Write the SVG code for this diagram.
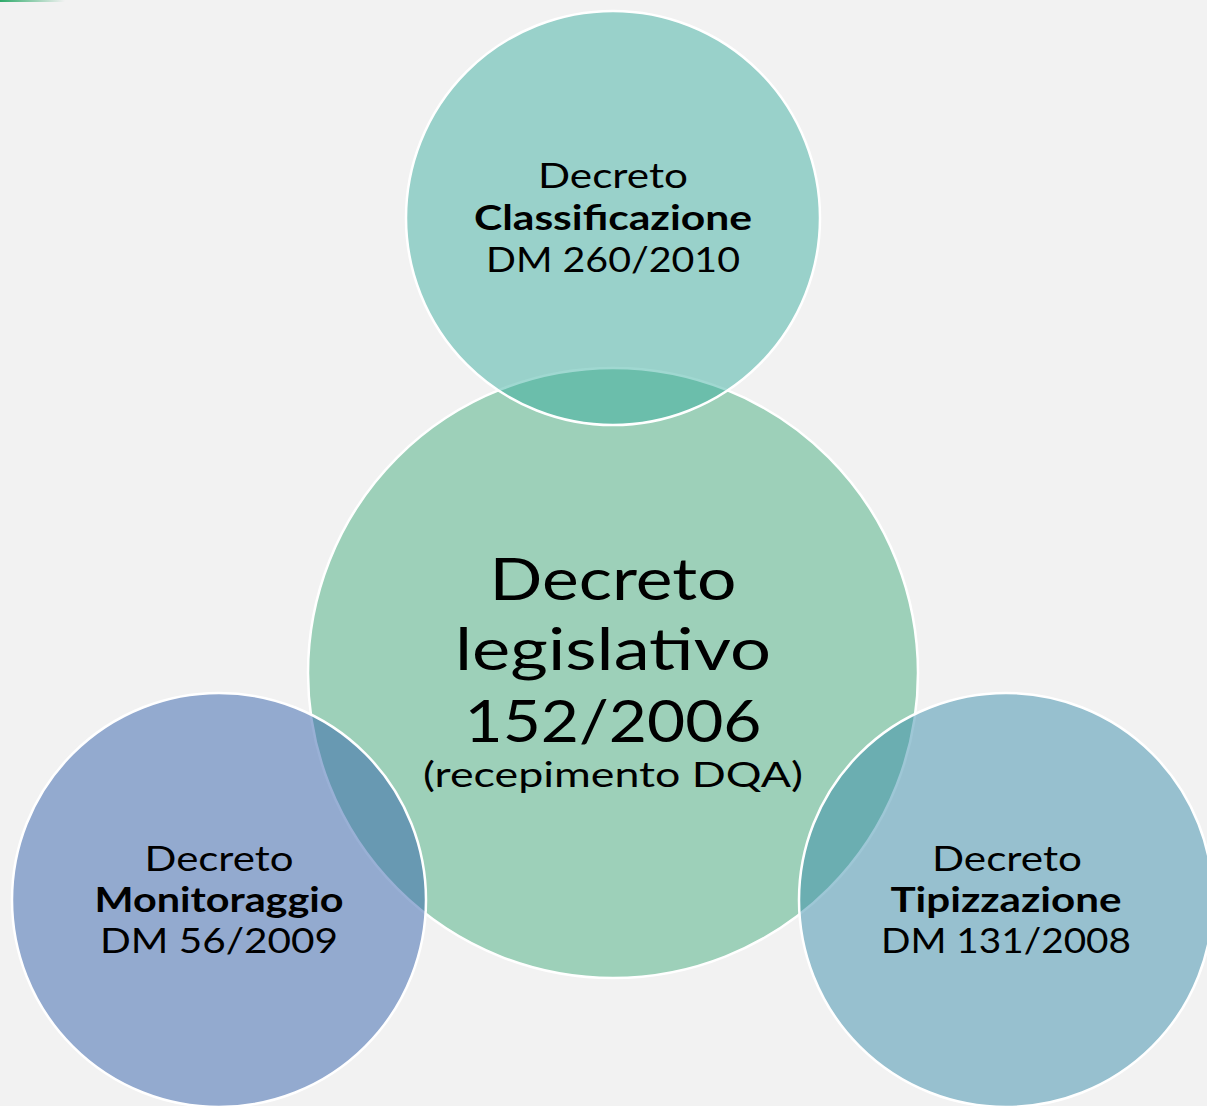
<svg xmlns="http://www.w3.org/2000/svg" width="1207" height="1106" viewBox="0 0 1207 1106">
<style>
.c{stroke:#ffffff;stroke-width:2.5}
text{font-family:Lato,"Open Sans","Liberation Sans",sans-serif;fill:#000;text-anchor:middle}
.s{font-size:35px}
.b{font-weight:bold}
.big{font-size:58px}
.mid{font-size:35px}
</style>
<defs>
<linearGradient id="gl" x1="0" y1="0" x2="1" y2="0">
<stop offset="0" stop-color="#2eaa6a"/>
<stop offset="1" stop-color="#2eaa6a" stop-opacity="0"/>
</linearGradient>
</defs>
<rect width="1207" height="1106" fill="#f2f2f2"/>
<rect x="0" y="0" width="65" height="2" fill="url(#gl)"/>
<g id="center">
<circle class="c" cx="613" cy="673" r="305" fill="#9dd0b9"/>
<text class="big" x="613" y="600" textLength="247" lengthAdjust="spacingAndGlyphs">Decreto</text>
<text class="big" x="613" y="670" textLength="316" lengthAdjust="spacingAndGlyphs">legislativo</text>
<text class="big" x="613" y="742" textLength="297" lengthAdjust="spacingAndGlyphs">152/2006</text>
<text class="mid" x="613" y="787" textLength="380" lengthAdjust="spacingAndGlyphs">(recepimento DQA)</text>
</g>
<g id="top">
<circle class="c" cx="613" cy="218" r="207" fill="#2fa99b" fill-opacity="0.46"/>
<text class="s" x="613" y="188" textLength="150" lengthAdjust="spacingAndGlyphs">Decreto</text>
<text class="s b" x="613" y="230" textLength="278" lengthAdjust="spacingAndGlyphs">Classificazione</text>
<text class="s" x="613" y="272" textLength="254" lengthAdjust="spacingAndGlyphs">DM 260/2010</text>
</g>
<g id="left">
<circle class="c" cx="219" cy="900" r="207" fill="#3462ac" fill-opacity="0.5"/>
<text class="s" x="219" y="871" textLength="149" lengthAdjust="spacingAndGlyphs">Decreto</text>
<text class="s b" x="219" y="912" textLength="249" lengthAdjust="spacingAndGlyphs">Monitoraggio</text>
<text class="s" x="219" y="953" textLength="238" lengthAdjust="spacingAndGlyphs">DM 56/2009</text>
</g>
<g id="right">
<circle class="c" cx="1006" cy="900" r="207" fill="#348aa9" fill-opacity="0.48"/>
<text class="s" x="1007" y="871" textLength="150" lengthAdjust="spacingAndGlyphs">Decreto</text>
<text class="s b" x="1006" y="912" textLength="231" lengthAdjust="spacingAndGlyphs">Tipizzazione</text>
<text class="s" x="1006" y="953" textLength="250" lengthAdjust="spacingAndGlyphs">DM 131/2008</text>
</g>
<g id="connectors"></g>
</svg>
